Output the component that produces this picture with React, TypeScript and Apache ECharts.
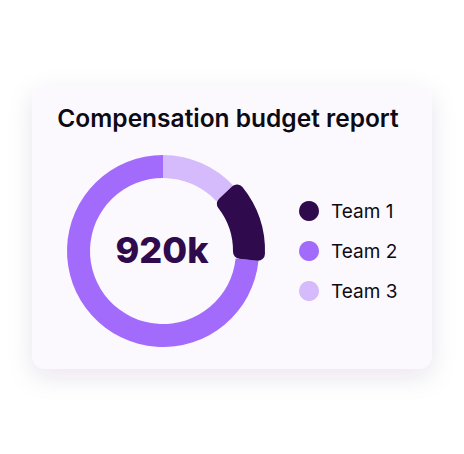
import React, { useEffect, useRef } from "react";
import * as echarts from "echarts";

const categories = ["Team 1", "Team 2", "Team 3"];
const values = [125, 675, 120];
const colors = ["#2f0b4d", "#a36bfb", "#d5bbfc"];
const centerLabel = "920k";
const title = "Compensation budget report";

export default function App() {
  const ref = useRef<HTMLDivElement>(null);
  useEffect(() => {
    if (!ref.current) return;
    const chart = echarts.init(ref.current, undefined, { renderer: "svg" });
    const ringData = [
      { name: categories[2], value: values[2], itemStyle: { color: colors[2] } },
      { name: categories[0], value: values[0], itemStyle: { color: "rgba(0,0,0,0)" } },
      { name: categories[1], value: values[1], itemStyle: { color: colors[1] } },
    ];
    const highlightData = [
      { name: categories[2] + " ", value: values[2], itemStyle: { color: "rgba(0,0,0,0)" } },
      { name: categories[0], value: values[0], itemStyle: { color: colors[0], borderRadius: 7 } },
      { name: categories[1] + " ", value: values[1], itemStyle: { color: "rgba(0,0,0,0)" } },
    ];
    chart.setOption({
      animation: false,
      backgroundColor: "#ffffff",
      graphic: [
        {
          type: "rect",
          z: -10,
          shape: { x: 32, y: 85, width: 400, height: 284, r: 14 },
          style: {
            fill: "#fbf9fe",
            shadowBlur: 24,
            shadowColor: "rgba(60,30,100,0.10)",
            shadowOffsetY: 8,
          },
        },
        {
          type: "text",
          x: 228,
          y: 118,
          style: {
            text: title,
            fill: "#0d0a14",
            font: "600 24.5px Inter",
            textAlign: "center",
            textVerticalAlign: "middle",
          },
        },
        {
          type: "text",
          x: 162,
          y: 250,
          z: 10,
          style: {
            text: centerLabel,
            fill: "#2f0b4d",
            font: "800 36px Inter",
            textAlign: "center",
            textVerticalAlign: "middle",
          },
        },
      ],
      legend: {
        orient: "vertical",
        left: 299,
        top: 201,
        padding: 0,
        icon: "circle",
        itemWidth: 20,
        itemHeight: 20,
        itemGap: 20,
        selectedMode: false,
        data: categories.map((c, i) => ({ name: c, itemStyle: { color: colors[i] } })),
        textStyle: {
          fontFamily: "Inter",
          fontSize: 19,
          color: "#0d0a14",
          padding: [0, 0, 0, 7],
        },
      },
      series: [
        {
          type: "pie",
          center: [163, 251],
          radius: [73, 96],
          startAngle: 90,
          clockwise: true,
          label: { show: false },
          labelLine: { show: false },
          silent: true,
          data: ringData,
        },
        {
          type: "pie",
          center: [163, 251],
          radius: [70, 102],
          startAngle: 90,
          clockwise: true,
          label: { show: false },
          labelLine: { show: false },
          silent: true,
          data: highlightData,
        },
      ],
    });
    return () => chart.dispose();
  }, []);
  return (
    <div
      ref={ref}
      style={{ position: "fixed", left: 0, top: 0, width: 464, height: 454 }}
    />
  );
}
